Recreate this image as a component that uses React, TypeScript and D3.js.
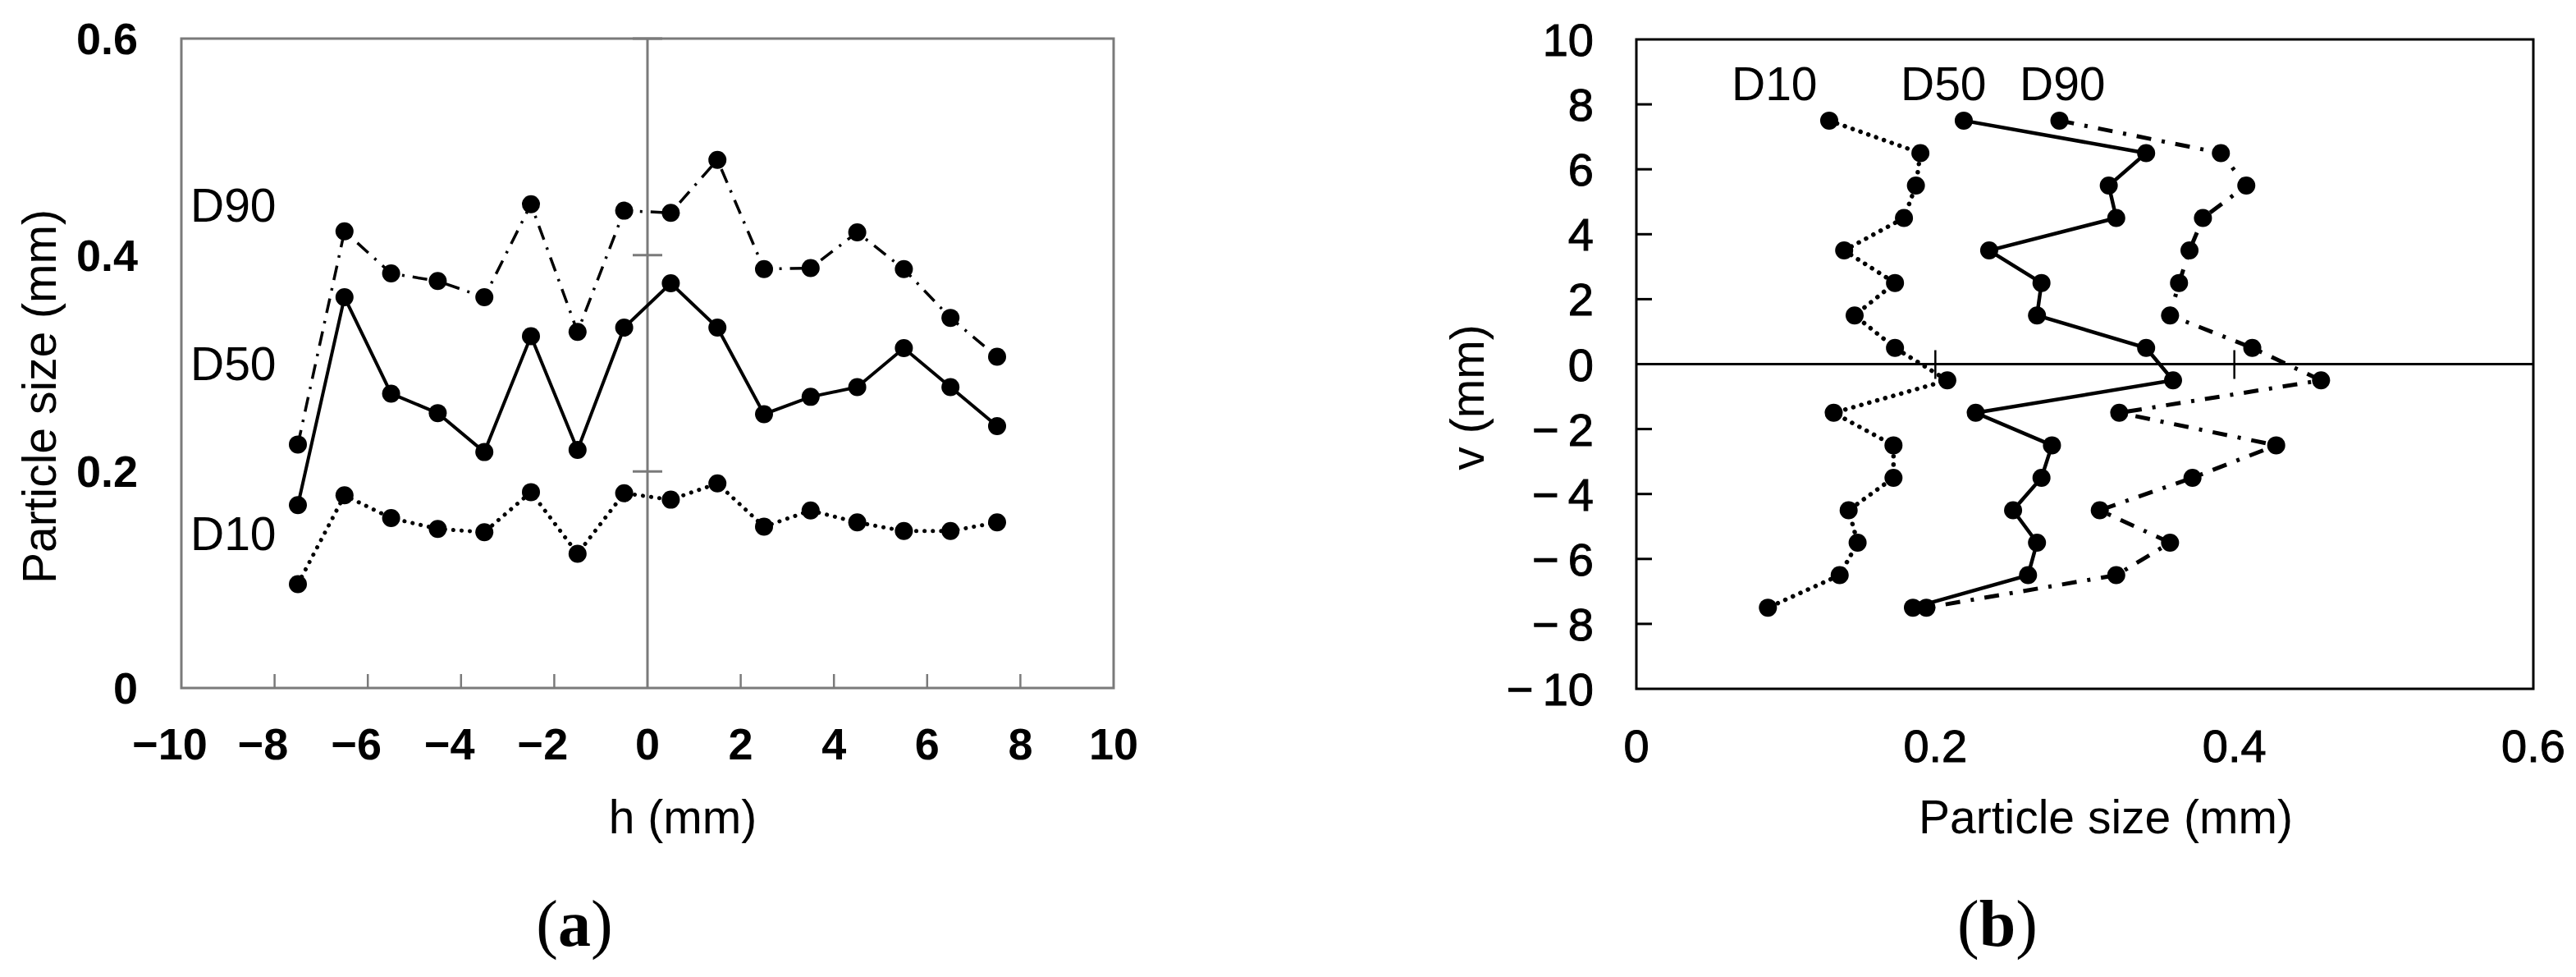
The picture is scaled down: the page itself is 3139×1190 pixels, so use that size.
import React from "react";
import * as d3 from "d3";

// panel (a): particle size along h
const hPositions = [-7.5, -6.5, -5.5, -4.5, -3.5, -2.5, -1.5, -0.5, 0.5, 1.5, 2.5, 3.5, 4.5, 5.5, 6.5, 7.5];
const hD10 = [0.096, 0.178, 0.157, 0.147, 0.144, 0.181, 0.124, 0.18, 0.174, 0.189, 0.149, 0.164, 0.153, 0.145, 0.145, 0.153];
const hD50 = [0.169, 0.361, 0.272, 0.254, 0.218, 0.325, 0.22, 0.333, 0.374, 0.333, 0.253, 0.269, 0.278, 0.314, 0.278, 0.242];
const hD90 = [0.225, 0.422, 0.383, 0.376, 0.361, 0.447, 0.329, 0.441, 0.439, 0.488, 0.387, 0.388, 0.421, 0.387, 0.342, 0.306];

// panel (b): particle size along v
const vPositions = [7.5, 6.5, 5.5, 4.5, 3.5, 2.5, 1.5, 0.5, -0.5, -1.5, -2.5, -3.5, -4.5, -5.5, -6.5, -7.5];
const vD10 = [0.129, 0.19, 0.187, 0.179, 0.139, 0.173, 0.146, 0.173, 0.208, 0.132, 0.172, 0.172, 0.142, 0.148, 0.136, 0.088];
const vD50 = [0.219, 0.341, 0.316, 0.321, 0.236, 0.271, 0.268, 0.341, 0.359, 0.227, 0.278, 0.271, 0.252, 0.268, 0.262, 0.185];
const vD90 = [0.283, 0.391, 0.408, 0.379, 0.37, 0.363, 0.357, 0.412, 0.458, 0.323, 0.428, 0.372, 0.31, 0.357, 0.321, 0.194];

const hTicks = [-10, -8, -6, -4, -2, 0, 2, 4, 6, 8, 10];
const sizeTicksA = [0, 0.2, 0.4, 0.6];
const sizeTicksB = [0, 0.2, 0.4, 0.6];
const vTicks = [10, 8, 6, 4, 2, 0, -2, -4, -6, -8, -10];

const FONT = "'Liberation Sans', Arial, sans-serif";
const SERIF = "'Liberation Serif', 'Times New Roman', serif";
const R = 11;

const minus = (n: number) => (n < 0 ? "\u2212" + Math.abs(n) : String(n));

function PanelA() {
  const x = d3.scaleLinear().domain([-10, 10]).range([221, 1357]);
  const y = d3.scaleLinear().domain([0, 0.6]).range([838, 47]);
  const line = d3
    .line<number>()
    .x((_, i) => x(hPositions[i]))
    .y((d) => y(d));
  const series = [
    { name: "D90", values: hD90, dash: "18 10 3 10", width: 3.5, cap: "butt" },
    { name: "D50", values: hD50, dash: null, width: 4, cap: "butt" },
    { name: "D10", values: hD10, dash: "0.1 10", width: 5, cap: "round" },
  ];
  const gray = "#7a7a7a";
  return (
    <g>
      <rect x={x(-10)} y={y(0.6)} width={x(10) - x(-10)} height={y(0) - y(0.6)} fill="none" stroke={gray} strokeWidth={3} />
      <line x1={x(0)} x2={x(0)} y1={y(0)} y2={y(0.6)} stroke={gray} strokeWidth={3} />
      {sizeTicksA.filter((t) => t > 0).map((t) => (
        <line key={t} x1={x(0) - 18} x2={x(0) + 18} y1={y(t)} y2={y(t)} stroke={gray} strokeWidth={3} />
      ))}
      {hTicks.filter((t) => Math.abs(t) < 10 && t !== 0).map((t) => (
        <line key={t} x1={x(t)} x2={x(t)} y1={y(0)} y2={y(0) - 17} stroke={gray} strokeWidth={2.5} />
      ))}
      {series.map((s) => (
        <g key={s.name}>
          <path d={line(s.values) || ""} fill="none" stroke="#000" strokeWidth={s.width}
            strokeDasharray={s.dash || undefined} strokeLinecap={s.cap as any} />
          {s.values.map((v, i) => (
            <circle key={i} cx={x(hPositions[i])} cy={y(v)} r={R} fill="#000" />
          ))}
        </g>
      ))}
      <g fontFamily={FONT} fontSize={54} fontWeight="bold" fill="#000">
        {sizeTicksA.map((t) => (
          <text key={t} x={168} y={y(t) + 19} textAnchor="end">{t === 0 ? "0" : t.toFixed(1)}</text>
        ))}
        {hTicks.map((t) => (
          <text key={t} x={x(t) - (t < 0 ? 14 : 0)} y={925} textAnchor="middle">{minus(t)}</text>
        ))}
      </g>
      <g fontFamily={FONT} fontSize={57} fill="#000">
        <text x={232} y={270}>D90</text>
        <text x={232} y={463}>D50</text>
        <text x={232} y={670}>D10</text>
        <text x={832} y={1015} textAnchor="middle">h (mm)</text>
        <text transform="translate(53,483) rotate(-90)" dy="0.26em" textAnchor="middle">Particle size (mm)</text>
      </g>
    </g>
  );
}

function PanelB() {
  const x = d3.scaleLinear().domain([0, 0.6]).range([1994, 3087]);
  const y = d3.scaleLinear().domain([-10, 10]).range([839, 48]);
  const line = d3
    .line<number>()
    .x((d) => x(d))
    .y((_, i) => y(vPositions[i]));
  const series = [
    { name: "D90", values: vD90, dash: "18 13 4 13", width: 5, cap: "butt" },
    { name: "D50", values: vD50, dash: null, width: 4.5, cap: "butt" },
    { name: "D10", values: vD10, dash: "0.1 10", width: 5.5, cap: "round" },
  ];
  return (
    <g>
      <rect x={x(0)} y={y(10)} width={x(0.6) - x(0)} height={y(-10) - y(10)} fill="none" stroke="#000" strokeWidth={3} />
      <line x1={x(0)} x2={x(0.6)} y1={y(0)} y2={y(0)} stroke="#000" strokeWidth={3} />
      {sizeTicksB.filter((t) => t > 0 && t < 0.6).map((t) => (
        <line key={t} x1={x(t)} x2={x(t)} y1={y(0) - 17} y2={y(0) + 18} stroke="#000" strokeWidth={2.5} />
      ))}
      {vTicks.filter((t) => Math.abs(t) < 10 && t !== 0).map((t) => (
        <line key={t} x1={x(0)} x2={x(0) + 19} y1={y(t)} y2={y(t)} stroke="#000" strokeWidth={3} />
      ))}
      {series.map((s) => (
        <g key={s.name}>
          <path d={line(s.values) || ""} fill="none" stroke="#000" strokeWidth={s.width}
            strokeDasharray={s.dash || undefined} strokeLinecap={s.cap as any} />
          {s.values.map((v, i) => (
            <circle key={i} cx={x(v)} cy={y(vPositions[i])} r={R} fill="#000" />
          ))}
        </g>
      ))}
      <g fontFamily={FONT} fontSize={56} fill="#000" stroke="#000" strokeWidth={1}>
        {vTicks.map((t) => (
          <text key={t} x={1942} y={y(t) + 20} textAnchor="end">
            {t < 0 ? "\u2212\u2009" + Math.abs(t) : String(t)}
          </text>
        ))}
        {sizeTicksB.map((t) => (
          <text key={t} x={x(t)} y={928} textAnchor="middle">{t === 0 ? "0" : t.toFixed(1)}</text>
        ))}
      </g>
      <g fontFamily={FONT} fontSize={57} fill="#000">
        <text x={2110} y={122}>D10</text>
        <text x={2316} y={122}>D50</text>
        <text x={2461} y={122}>D90</text>
        <text x={2566} y={1015} textAnchor="middle">Particle size (mm)</text>
        <text transform="translate(1793,484) rotate(-90)" dy="0.26em" textAnchor="middle">v (mm)</text>
      </g>
    </g>
  );
}

export default function App() {
  return (
    <svg width={3139} height={1190} viewBox="0 0 3139 1190"
      style={{ position: "absolute", left: 0, top: 0, background: "#fff" }}>
      <rect width={3139} height={1190} fill="#fff" />
      <PanelA />
      <PanelB />
      <g fontFamily={SERIF} fontSize={80} fill="#000" textAnchor="middle">
        <text x={700} y={1152}>(<tspan fontWeight="bold">a</tspan>)</text>
        <text x={2434} y={1152}>(<tspan fontWeight="bold">b</tspan>)</text>
      </g>
    </svg>
  );
}
